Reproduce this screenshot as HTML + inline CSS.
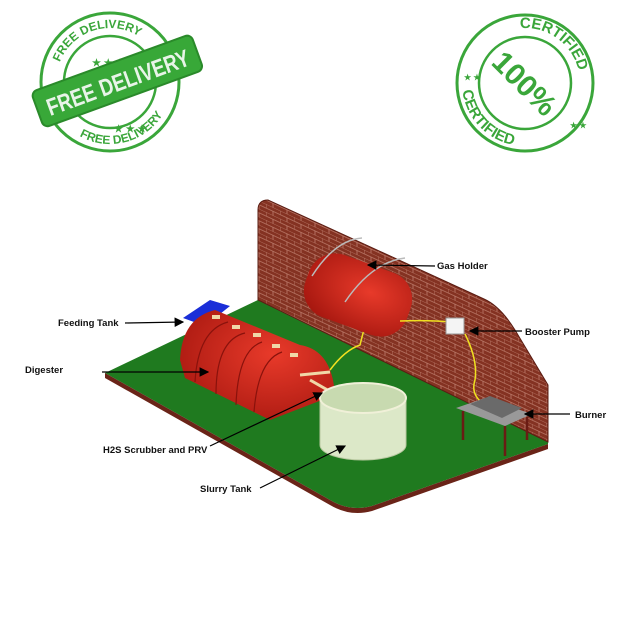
<!DOCTYPE html>
<html><head><meta charset="utf-8"><style>
html,body{margin:0;padding:0;background:#fff;width:628px;height:628px;overflow:hidden}
svg{display:block}
text{font-family:"Liberation Sans",sans-serif}
</style></head><body>
<svg width="628" height="628" viewBox="0 0 628 628" xmlns="http://www.w3.org/2000/svg">
<defs>
<pattern id="brick" width="14" height="8" patternUnits="userSpaceOnUse" patternTransform="skewY(25)">
<rect width="14" height="8" fill="#843222"/>
<path d="M0 0H14M0 4H14M0 0V4M7 4V8" stroke="#c08070" stroke-width="0.8"/>
</pattern>
<marker id="ah" markerWidth="8" markerHeight="8" refX="7" refY="4" orient="auto"><path d="M0 0L8 4L0 8z" fill="#000"/></marker>
<radialGradient id="red" cx="0.6" cy="0.4" r="0.7"><stop offset="0" stop-color="#e83a2a"/><stop offset="1" stop-color="#a81810"/></radialGradient>
<path id="fdTop" d="M56 82 A54 54 0 0 1 164 82"/>
<path id="fdBot" d="M48 82 A62 62 0 0 0 172 82"/>
<path id="ceTop" d="M470 83 A55 55 0 0 1 580 83"/>
<path id="ceBot" d="M462 83 A63 63 0 0 0 588 83"/>
</defs>

<!-- Free delivery stamp -->
<g fill="none" stroke="#3aa63a">
<circle cx="110" cy="82" r="69" stroke-width="3"/>
<circle cx="110" cy="82" r="46" stroke-width="2.5"/>
</g>
<g fill="#3aa63a" font-weight="bold" font-size="12">
<text text-anchor="middle"><textPath href="#fdTop" startOffset="40%">FREE DELIVERY</textPath></text>
<text text-anchor="middle"><textPath href="#fdBot" startOffset="58%">FREE DELIVERY</textPath></text>
<text x="92" y="66" font-size="10">★ ★ ★</text>
<text x="114" y="132" font-size="10">★ ★ ★</text>
</g>
<g transform="rotate(-20 117 80)">
<rect x="32" y="62" width="170" height="38" rx="6" fill="#38a838" stroke="#2a8a2a" stroke-width="2"/>
<text x="117" y="91" text-anchor="middle" fill="#e8f4e8" font-weight="bold" font-size="24" textLength="150" lengthAdjust="spacingAndGlyphs">FREE DELIVERY</text>
</g>

<!-- Certified stamp -->
<g fill="none" stroke="#3aa63a">
<circle cx="525" cy="83" r="68" stroke-width="3"/>
<circle cx="525" cy="83" r="46" stroke-width="2.5"/>
</g>
<g fill="#3aa63a" font-weight="bold">
<text font-size="15" text-anchor="middle"><textPath href="#ceTop" startOffset="70%">CERTIFIED</textPath></text>
<text font-size="15" text-anchor="middle"><textPath href="#ceBot" startOffset="24%">CERTIFIED</textPath></text>
<text x="464" y="80" font-size="8">★ ★</text>
<text x="570" y="128" font-size="8">★ ★</text>
<text x="525" y="94" font-size="30" text-anchor="middle" transform="rotate(45 525 83)">100%</text>
</g>

<!-- floor -->
<path d="M105 373 L262 298 L548 442 L548 444 L372 506 Q350 512 330 500 Z" fill="#1f7a1f"/>
<path d="M105 373 L330 500 Q350 512 372 506 L548 444 L548 449 L372 511 Q350 517 330 505 L105 378Z" fill="#6a2418"/>
<!-- wall -->
<path d="M258 300 L258 210 Q258 200 268 200 L484 299 Q500 306 515 330 L548 385 L548 442 Z" fill="url(#brick)" stroke="#5a1c12" stroke-width="1"/>

<!-- feeding tank -->
<path d="M183 318 L210 300 L230 306 L205 326Z" fill="#1a2ed8"/>
<!-- digester -->
<g>
<path d="M180 360 Q182 318 215 310 L300 345 Q332 350 335 395 L270 420 L185 378Z" fill="url(#red)"/>
<g fill="none" stroke="#8a120c" stroke-width="1.2">
<path d="M195 382 Q198 330 228 322"/><path d="M216 394 Q216 340 245 333"/><path d="M236 405 Q238 350 262 342"/><path d="M254 412 Q258 360 282 352"/>
</g>
<g fill="#f0d8a8"><rect x="212" y="315" width="8" height="4"/><rect x="232" y="325" width="8" height="4"/><rect x="253" y="333" width="8" height="4"/><rect x="272" y="344" width="8" height="4"/><rect x="290" y="353" width="8" height="4"/></g>
</g>
<!-- scrubber pipe -->
<path d="M300 375 L330 372 M310 380 L345 400" stroke="#f0d8a8" stroke-width="3" fill="none"/>
<path d="M330 370 Q345 350 360 345 Q365 325 368 315" stroke="#f0e020" stroke-width="1.5" fill="none"/>
<!-- slurry tank -->
<path d="M320 398 L320 445 A43 15 0 0 0 406 445 L406 398Z" fill="#dce8c8" stroke="#b8c8a0"/>
<ellipse cx="363" cy="398" rx="43" ry="15" fill="#c8dab0" stroke="#f0f0d8" stroke-width="2"/>
<!-- gas holder -->
<g transform="rotate(20 358 295)">
<rect x="304" y="262" width="108" height="66" rx="28" fill="url(#red)"/>
</g>
<path d="M312 276 Q335 240 362 238 M345 302 Q372 262 405 258" stroke="#bbb" stroke-width="1.5" fill="none"/>
<!-- hoses -->
<path d="M400 321 Q430 320 450 322 M465 334 Q478 360 475 380 Q470 395 485 405" stroke="#f0e020" stroke-width="1.5" fill="none"/>
<rect x="446" y="318" width="18" height="16" fill="#f4f4f4" stroke="#999"/>
<!-- burner -->
<path d="M456 408 L485 398 L532 414 L505 426Z" fill="#999"/>
<path d="M470 404 L490 396 L522 408 L502 418Z" fill="#6a6a6a"/>
<path d="M463 411 V440 M505 426 V456 M527 417 V440" stroke="#6a1c14" stroke-width="2.5"/>

<!-- labels -->
<g font-size="9.5" font-weight="bold" fill="#111">
<text x="437" y="269">Gas Holder</text>
<text x="525" y="335">Booster Pump</text>
<text x="575" y="418">Burner</text>
<text x="58" y="326">Feeding Tank</text>
<text x="25" y="373">Digester</text>
<text x="103" y="453">H2S Scrubber and PRV</text>
<text x="200" y="492">Slurry Tank</text>
</g>
<g stroke="#000" stroke-width="1.2" fill="none" marker-end="url(#ah)">
<line x1="435" y1="266" x2="368" y2="265"/>
<line x1="522" y1="331" x2="470" y2="331"/>
<line x1="570" y1="414" x2="525" y2="414"/>
<line x1="125" y1="323" x2="183" y2="322"/>
<line x1="102" y1="372" x2="208" y2="372"/>
<line x1="210" y1="446" x2="322" y2="393"/>
<line x1="260" y1="488" x2="345" y2="446"/>
</g>
</svg>
</body></html>
